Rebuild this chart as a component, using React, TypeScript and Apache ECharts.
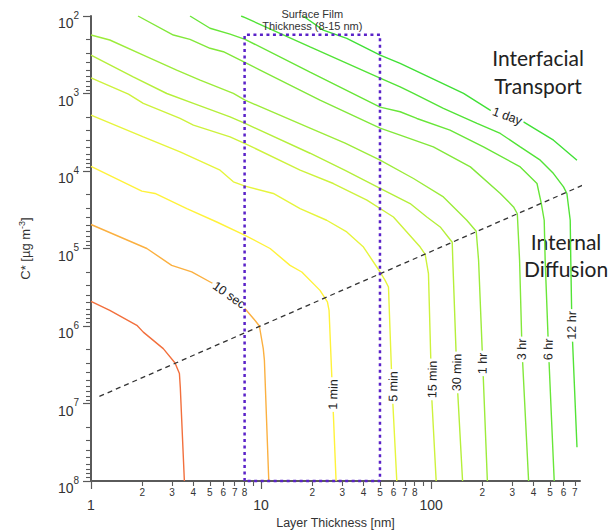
import React, { useEffect, useRef } from 'react';
import * as echarts from 'echarts';

// Each curve: [layer thickness (nm), C* (µg m^-3)]
const curveFast: [number, number][] = [[1, 4.8e5], [1.29, 6.3e5], [1.86, 9.8e5], [2.03, 1.2e6], [2.66, 1.96e6], [3.12, 3.0e6], [3.31, 4.1e6], [3.35, 6.2e6], [3.54, 1e8]];
const curve10s: [number, number][] = [[1, 4.9e4], [2.13, 1.0e5], [2.98, 1.65e5], [3.91, 2.0e5], [5.24, 2.85e5], [6.48, 4.0e5], [8.05, 6.0e5], [9.22, 8.5e5], [9.77, 1.0e6], [10.3, 1.96e6], [10.46, 2.78e6], [11.1, 1e8]];
const curve1m: [number, number][] = [[1, 8.7e3], [1.99, 1.82e4], [2.38, 1.95e4], [3.66, 3.05e4], [5.49, 4.55e4], [8.05, 6.76e4], [11.3, 1.0e5], [14.8, 1.65e5], [17.35, 2.01e5], [22.2, 3.47e5], [24.55, 4.9e5], [25.1, 6.3e5], [26.6, 1.36e7], [27.6, 1e8]];
const curve5m: [number, number][] = [[1, 1.9e3], [2.03, 3.63e3], [3.34, 5.67e3], [5.74, 9.77e3], [6.87, 1.38e4], [8.05, 1.57e4], [11.8, 1.95e4], [16.96, 3.05e4], [24.3, 4.32e4], [31.9, 6.12e4], [40, 9.57e4], [50.1, 2.01e5], [53.6, 2.58e5], [56.1, 3.14e5], [59, 6.8e6], [62.8, 1e8]];
const curve15m: [number, number][] = [[1, 627], [1.66, 1.02e3], [2.03, 1.34e3], [3.34, 2.1e3], [4.0, 2.56e3], [6.57, 3.63e3], [8.05, 4.42e3], [16.96, 9.77e3], [26.6, 1.45e4], [41.9, 2.38e4], [60, 3.92e4], [86.2, 9.57e4], [92.2, 1.19e5], [96.4, 2.11e5], [101, 9.1e6], [107, 1e8]];
const curve30m: [number, number][] = [[1, 319], [1.77, 609], [2.79, 1.0e3], [4.0, 1.34e3], [6.57, 2.0e3], [8.05, 2.43e3], [19.4, 5.9e3], [31.2, 9.8e3], [50.1, 1.67e4], [75.2, 2.63e4], [94.3, 3.92e4], [113, 5.27e4], [133, 8.3e4], [134, 1.42e5], [142, 5.05e6], [153, 1e8]];
const curve1h: [number, number][] = [[1, 176], [1.29, 204], [2.03, 319], [3.19, 499], [4.38, 671], [6.87, 998], [8.05, 1.22e3], [19.4, 2.8e3], [31.2, 4.38e3], [50.1, 7.25e3], [78.7, 1.25e4], [118, 2.16e4], [162, 4.32e4], [184, 6.0e4], [190, 1.42e5], [201, 3.04e6], [214, 1e8]];
const curve3h: [number, number][] = [[1.89, 100], [3.05, 176], [3.82, 200], [5.01, 261], [6.0, 289], [7.87, 389], [9.87, 499], [22.2, 1.22e3], [50.1, 2.8e3], [65.7, 3.44e3], [103, 4.88e3], [170, 8.85e3], [255, 1.95e4], [305, 2.91e4], [321, 3.56e4], [331, 1.42e5], [342, 2.0e6], [374, 1e8]];
const curve6h: [number, number][] = [[3.82, 100], [5.01, 144], [6.57, 171], [8.05, 200], [19.4, 529], [50.1, 1.5e3], [65.7, 1.72e3], [82.4, 2.1e3], [129, 2.97e3], [203, 4.88e3], [334, 8.85e3], [419, 1.45e4], [444, 2.61e4], [462, 4.32e4], [468, 1.42e5], [490, 2.07e6], [529, 1e8]];
const curve12h: [number, number][] = [[7.63, 100], [8.05, 105], [19.4, 251], [50.1, 632], [65.7, 819], [78.7, 998], [118, 1.56e3], [186, 2.43e3], [255, 3.28e3], [334, 4.88e3], [438, 7.25e3], [524, 1.08e4], [600, 1.6e4], [628, 1.95e4], [657, 4.32e4], [662, 1.42e5], [672, 9.8e5], [720, 3.67e7]];
const curve1d: [number, number][] = [[17.66, 100], [23.2, 152], [31.9, 194], [50.1, 319], [65.7, 408], [155, 998], [222, 1.64e3], [349, 2.32e3], [524, 4.0e3], [720, 7.25e3]];

const curves = [curveFast, curve10s, curve1m, curve5m, curve15m, curve30m, curve1h, curve3h, curve6h, curve12h, curve1d];
const curveColors = ['#f26f3c', '#fbb040', '#fff23a', '#e6f53c', '#cdf23c', '#b5ef3a', '#9cec3a', '#82e83a', '#68e638', '#52e336', '#40e036'];
const curveLabels = ['', '10 sec', '1 min', '5 min', '15 min', '30 min', '1 hr', '3 hr', '6 hr', '12 hr', '1 day'];
const labelCoords: [number, number][] = [[1, 1], [6.48, 4.0e5], [26.6, 7.66e6], [60, 6.03e6], [102, 4.9e6], [142, 3.98e6], [201, 3.04e6], [342, 2.0e6], [490, 2.0e6], [672, 9.8e5], [280, 1.96e3]];
const labelRotations = [0, -35, 89, 89, 89, 89, 89, 89, 89, 89, -20];

// Regime boundary (dashed) and surface film box (dotted)
const boundaryLine: [number, number][] = [[1.12, 8.1e6], [935, 1.28e4]];
const filmBox: [number, number][] = [[8, 1e8], [8, 175], [50, 175], [50, 1e8], [8, 1e8]];
const filmTitleCoord: [number, number] = [20, 112];

// Axis ticks
const xMajorTicks = [1, 10, 100];
const xMinorTicks = [2, 3, 4, 5, 6, 7, 8, 9, 20, 30, 40, 50, 60, 70, 80, 90, 200, 300, 400, 500, 600, 700];
const xMinorLabels = [2, 3, 4, 5, 6, 7, 8, 20, 30, 40, 50, 60, 70, 80, 200, 300, 400, 500, 600, 700];
const yMajorTicks = [1e2, 1e3, 1e4, 1e5, 1e6, 1e7, 1e8];
const yMinorMultipliers = [2, 3, 4, 5, 6, 7, 8, 9];

const FONT = 'Liberation Sans, Arial, sans-serif';

export default function App() {
  const ref = useRef<HTMLDivElement>(null);
  useEffect(() => {
    const chart = echarts.init(ref.current as HTMLDivElement, null, { renderer: 'svg' });
    const yMinor: number[] = [];
    for (let k = 0; k < yMajorTicks.length - 1; k++) {
      for (const m of yMinorMultipliers) yMinor.push(m * yMajorTicks[k]);
    }
    const axisColor = '#5a5a5a';
    const series: any[] = curves.map((data, i) => ({
      type: 'line',
      name: curveLabels[i] || 'fast',
      data,
      xAxisIndex: 0,
      yAxisIndex: 0,
      showSymbol: false,
      symbol: 'none',
      silent: true,
      z: 3,
      lineStyle: { color: curveColors[i], width: 1.4 },
      markPoint: curveLabels[i]
        ? {
            symbol: 'circle',
            symbolSize: 0,
            silent: true,
            data: [{ coord: labelCoords[i], value: curveLabels[i] }],
            label: {
              show: true,
              position: 'inside',
              formatter: curveLabels[i],
              rotate: labelRotations[i],
              color: '#222',
              fontSize: 12.5,
              fontFamily: FONT,
              backgroundColor: '#fff',
              padding: [0, 2],
            },
          }
        : undefined,
    }));
    series.push({
      type: 'line',
      name: 'boundary',
      data: boundaryLine,
      showSymbol: false,
      symbol: 'none',
      silent: true,
      clip: false,
      z: 4,
      lineStyle: { color: '#333', width: 1.3, type: [5, 4] },
    });
    series.push({
      type: 'line',
      name: 'film',
      data: filmBox,
      showSymbol: false,
      symbol: 'none',
      silent: true,
      clip: false,
      z: 5,
      lineStyle: { color: '#5a22c8', width: 2.5, type: [3, 3.5] },
      markPoint: {
        symbol: 'circle',
        symbolSize: 0,
        silent: true,
        data: [{ coord: filmTitleCoord, value: 'film' }],
        label: {
          show: true,
          position: 'inside',
          formatter: 'Surface Film\nThickness (8-15 nm)',
          color: '#333',
          fontSize: 11,
          lineHeight: 12,
          align: 'center',
          fontFamily: FONT,
        },
      },
    });

    const option: any = {
      animation: false,
      backgroundColor: '#fff',
      grid: { left: 91, right: 30, top: 16, bottom: 51, containLabel: false, outerBoundsMode: 'none' },
      xAxis: [
        {
          type: 'log',
          logBase: 10,
          min: 1,
          max: 750,
          position: 'bottom',
          name: 'Layer Thickness [nm]',
          nameLocation: 'middle',
          nameGap: 34,
          nameTextStyle: { fontSize: 12.5, color: '#333', fontFamily: FONT },
          axisLine: { show: true, onZero: false, lineStyle: { color: axisColor, width: 2 } },
          axisTick: { show: true, length: 8, customValues: xMajorTicks, lineStyle: { color: axisColor, width: 1.2 } },
          axisLabel: { customValues: xMajorTicks, margin: 17, fontSize: 14, color: '#333', fontFamily: FONT, formatter: (v: number) => String(Math.round(v)) },
          splitLine: { show: false },
          minorTick: { show: false },
        },
        {
          type: 'log',
          logBase: 10,
          min: 1,
          max: 750,
          position: 'bottom',
          axisLine: { show: false, onZero: false },
          axisTick: { show: true, length: 5, customValues: xMinorTicks, lineStyle: { color: axisColor, width: 1.1 } },
          axisLabel: { customValues: xMinorLabels, margin: 6, fontSize: 10, color: '#333', fontFamily: FONT, formatter: (v: number) => String(Math.round(v / Math.pow(10, Math.floor(Math.log10(v) + 1e-9)))) },
          splitLine: { show: false },
        },
      ],
      yAxis: [
        {
          type: 'log',
          logBase: 10,
          min: 1e2,
          max: 1e8,
          inverse: true,
          position: 'left',
          name: '{n|C* [µg m}{s|-3}{n|]}',
          nameLocation: 'middle',
          nameGap: 58,
          nameTextStyle: {
            color: '#333',
            fontFamily: FONT,
            rich: {
              n: { fontSize: 13, color: '#333', fontFamily: FONT },
              s: { fontSize: 9, color: '#333', fontFamily: FONT, padding: [0, 0, 7, 0] },
            },
          },
          axisLine: { show: true, onZero: false, lineStyle: { color: axisColor, width: 2 } },
          axisTick: { show: true, length: 8, customValues: yMajorTicks, lineStyle: { color: axisColor, width: 1.2 } },
          axisLabel: {
            customValues: yMajorTicks,
            margin: 12,
            formatter: (v: number) => `{b|10}{s|${Math.round(Math.log10(v))}}`,
            rich: {
              b: { fontSize: 14, color: '#333', fontFamily: FONT, padding: [14, 0, 0, 0] },
              s: { fontSize: 10, color: '#333', fontFamily: FONT, padding: [0, 0, 2, 0] },
            },
          },
          splitLine: { show: false },
        },
        {
          type: 'log',
          logBase: 10,
          min: 1e2,
          max: 1e8,
          inverse: true,
          position: 'left',
          axisLine: { show: false, onZero: false },
          axisTick: { show: true, length: 5, customValues: yMinor, lineStyle: { color: axisColor, width: 1.1 } },
          axisLabel: { show: false },
          splitLine: { show: false },
        },
      ],
      series,
      graphic: [
        { type: 'text', x: 538, y: 57, silent: true, style: { text: 'Interfacial', fill: '#222', font: '21px Lato', align: 'center', verticalAlign: 'middle' } },
        { type: 'text', x: 538, y: 85, silent: true, style: { text: 'Transport', fill: '#222', font: '21px Lato', align: 'center', verticalAlign: 'middle' } },
        { type: 'text', x: 566, y: 241, silent: true, style: { text: 'Internal', fill: '#222', font: '21px Lato', align: 'center', verticalAlign: 'middle' } },
        { type: 'text', x: 566, y: 268, silent: true, style: { text: 'Diffusion', fill: '#222', font: '21px Lato', align: 'center', verticalAlign: 'middle' } },
      ],
    };
    chart.setOption(option);
    return () => chart.dispose();
  }, []);
  return <div ref={ref} style={{ position: 'fixed', left: 0, top: 0, width: 610, height: 532, background: '#fff' }} />;
}
